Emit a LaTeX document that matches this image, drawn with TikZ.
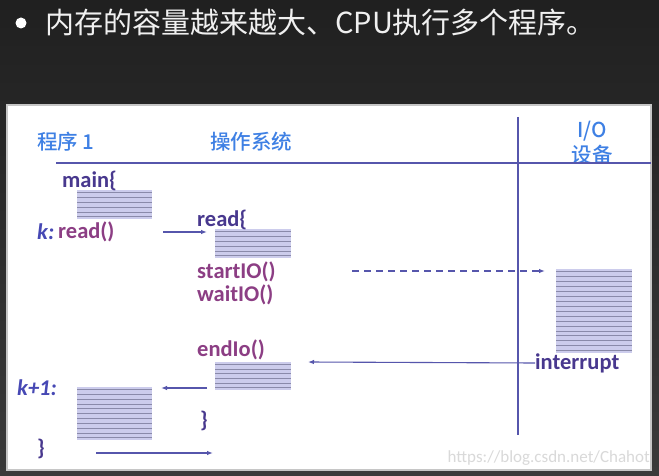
\documentclass[tikz,border=0pt]{standalone}
\usepackage{fontspec}
\setmainfont{Carlito}
\newfontfamily\cjk{Noto Sans CJK SC}
\newfontfamily\cjkb{Noto Sans CJK SC Medium}
\usetikzlibrary{arrows.meta,positioning,calc}
\definecolor{bgtop}{RGB}{32,32,32}
\definecolor{bgbot}{RGB}{58,58,58}
\definecolor{hdrblue}{RGB}{62,128,228}
\definecolor{codepurple}{RGB}{140,62,132}
\definecolor{codeblue}{RGB}{72,56,142}
\definecolor{lblblue}{RGB}{70,72,180}
\definecolor{wire}{RGB}{86,86,172}
\definecolor{blkfill}{RGB}{204,204,236}
\definecolor{blkline}{RGB}{138,138,170}
\tikzset{
  % ---- texts ------------------------------------------------------------
  hdr/.style={font=\cjkb\fontsize{20.5}{25}\selectfont, text=hdrblue,
              inner sep=0pt, anchor=west},
  code/.style={font=\bfseries\fontsize{22.5}{24}\selectfont, text=codepurple,
               inner sep=0pt, anchor=west},
  codeb/.style={code, text=codeblue},
  klbl/.style={code, text=lblblue, font=\bfseries\itshape\fontsize{22.5}{24}\selectfont},
  % ---- hatched code blocks ----------------------------------------------
  hblk/.style={draw=none, fill=blkfill, inner sep=0pt, anchor=north west,
    path picture={
      \foreach \i in {1,...,#1}{
        \draw[blkline, line width=0.9pt]
          ($(path picture bounding box.north west)!{(\i-0.5)/#1}!(path picture bounding box.south west)$) --
          ($(path picture bounding box.north east)!{(\i-0.5)/#1}!(path picture bounding box.south east)$);
      }}},
  % ---- arrows -----------------------------------------------------------
  ar/.style={-{Latex[length=6pt,width=4.5pt]}, draw=wire, line width=1.1pt},
  rule/.style={draw=wire, line width=1.6pt},
}

\begin{document}
\begin{tikzpicture}[x=1pt,y=-1pt]
\useasboundingbox (0,0) rectangle (659,476);

% background and slide panel
\shade[top color=bgtop, bottom color=bgbot] (0,0) rectangle (659,476);
\fill[white, draw=gray!45, line width=1.5pt] (7,105) rectangle (651,470);

% title
\fill[white] (21,23) circle (5.5);
\node[font=\cjk\fontsize{29}{31}\selectfont, text=white!94!black, inner sep=0pt,
      anchor=west] (title) at (45,22) {内存的容量越来越大、CPU执行多个程序。};

% column headers and rules
\node[hdr] (prog) at (37,142) {程序 1};
\node[hdr] (os)   at (210,142) {操作系统};
\node[hdr, anchor=center, align=center] (io) at (592,143) {I/O\\设备};
\draw[rule] (56,163) -- (651,163);
\draw[rule] (518,117) -- (518,435);

% code blocks
\node[hblk=6,  minimum width=75pt, minimum height=29pt] (mainblk) at (77,190)  {};
\node[hblk=6,  minimum width=76pt, minimum height=29pt] (readblk) at (215,229) {};
\node[hblk=17, minimum width=76pt, minimum height=84pt] (ioblk)   at (556,269) {};
\node[hblk=6,  minimum width=76pt, minimum height=28pt] (endblk)  at (215,362) {};
\node[hblk=11, minimum width=75pt, minimum height=53pt] (nextblk) at (77,387)  {};

% program 1
\node[codeb] (mainl) at (62,181) {main\{};
\node[klbl]  (kl)    at (37,232) {k:};
\node[code]  (rcall) at (58,232) {read()};
\node[klbl]  (k1l)   at (17,388) {k+1:};
\node[codeb] (pend)  at (37,449) {\}};

% operating system
\node[codeb] (readl)  at (197,220) {read\{};
\node[code]  (startl) at (197,272) {startIO()};
\node[code]  (waitl)  at (197,295) {waitIO()};
\node[code]  (endl)   at (197,350) {endIo()};
\node[codeb] (osend)  at (200,421) {\}};

% I/O device
\node[codeb] (intr) at (535,363) {interrupt};

% connectors
\coordinate (a1s) at (163,232);  \coordinate (a1e) at (207,232);
\coordinate (a2s) at (352,271);  \coordinate (a2e) at (545,271);
\coordinate (a3e) at (308,362);
\coordinate (a4s) at (207,388);  \coordinate (a4e) at (161,388);
\coordinate (a5s) at (96,453);   \coordinate (a5e) at (213,453);
\draw[ar] (a1s) -- (a1e);
\draw[ar, dash pattern=on 7pt off 5pt] (a2s) -- (a2e);
\draw[ar] (intr.west) -- (a3e);
\draw[ar] (a4s) -- (a4e);
\draw[ar] (a5s) -- (a5e);

% watermark
\node[font=\fontsize{17}{19}\selectfont, text=gray!30, inner sep=0pt, anchor=east]
  (wm) at (650,458) {https://blog.csdn.net/Chahot};

\end{tikzpicture}
\end{document}
